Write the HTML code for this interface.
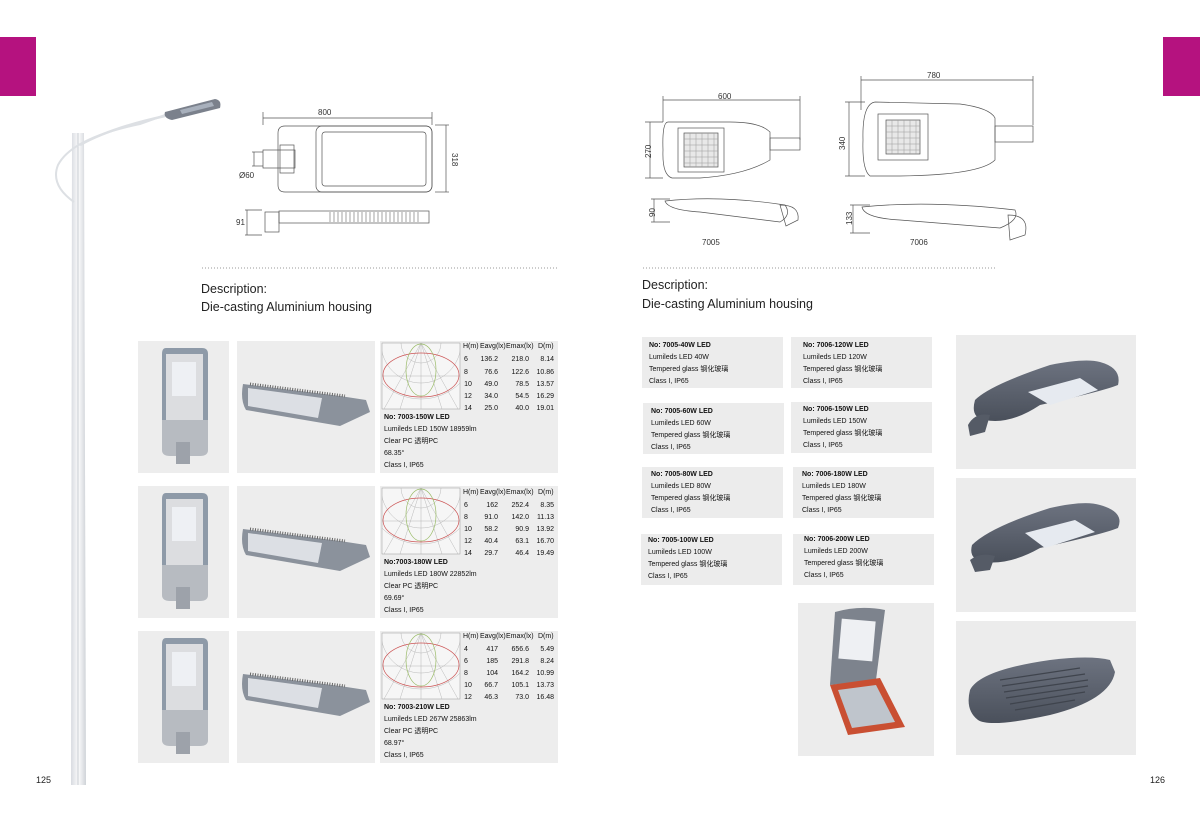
<!DOCTYPE html>
<html><head><meta charset="utf-8"><style>
html,body{margin:0;padding:0;background:#fff;}
body{width:1200px;height:819px;position:relative;overflow:hidden;font-family:"Liberation Sans","Noto Sans CJK SC",sans-serif;}
svg{position:absolute;left:0;top:0;}
</style></head><body>
<svg width="1200" height="819" viewBox="0 0 1200 819" font-family="Liberation Sans, Noto Sans CJK SC, sans-serif">
<defs>
<linearGradient id="pole" x1="0" x2="1"><stop offset="0" stop-color="#d8dbe0"/><stop offset=".5" stop-color="#fbfbfc"/><stop offset="1" stop-color="#cfd3d8"/></linearGradient>
<linearGradient id="dk" x1="0" y1="0" x2="0" y2="1"><stop offset="0" stop-color="#6d7380"/><stop offset="1" stop-color="#4a505b"/></linearGradient>
<clipPath id="polar"><rect x="382" y="343" width="78" height="66"/></clipPath>
</defs>
<rect x="0" y="37" width="36" height="59" fill="#b5127f"/>
<rect x="1163" y="37" width="37" height="59" fill="#b5127f"/>
<path d="M72 133 L84 133 L86 785 L71 785 Z" fill="url(#pole)"/>
<line x1="78" y1="133" x2="78" y2="785" stroke="#c8ccd2" stroke-width="1"/>
<path d="M80 145 Q110 128 165 116" stroke="#dde0e4" stroke-width="2.5" fill="none"/>
<path d="M74 202 Q50 185 58 165 Q72 138 140 124 L168 114" stroke="#dde0e4" stroke-width="2" fill="none"/>
<path d="M165 112 L215 99 Q222 100 220 108 L172 120 Q163 118 165 112Z" fill="#7b818c"/>
<path d="M180 110 L212 102 L214 106 L182 114Z" fill="#a8b0bc"/>
<text x="36" y="783" font-size="9" fill="#222">125</text>
<text x="1150" y="783" font-size="9" fill="#222">126</text>

<g stroke="#555" fill="none" stroke-width="0.7">
<line x1="263" y1="112" x2="263" y2="125"/><line x1="432" y1="112" x2="432" y2="125"/>
<line x1="263" y1="118" x2="432" y2="118"/>
<line x1="435" y1="125" x2="449" y2="125"/><line x1="435" y1="192" x2="449" y2="192"/><line x1="446" y1="125" x2="446" y2="192"/>
<path d="M285 126 L425 126 Q432 126 432 133 L432 185 Q432 192 425 192 L285 192 Q278 192 278 185 L278 133 Q278 126 285 126Z"/>
<rect x="316" y="126" width="116" height="66" rx="6"/>
<rect x="322" y="132" width="104" height="54" rx="3"/>
<rect x="263" y="150" width="32" height="18"/><rect x="280" y="145" width="14" height="28"/>
<line x1="252" y1="152" x2="263" y2="152"/><line x1="252" y1="166" x2="263" y2="166"/><line x1="254" y1="152" x2="254" y2="166"/>
<rect x="279" y="211" width="150" height="12"/>
<rect x="265" y="212" width="14" height="20"/>
<line x1="247" y1="210" x2="247" y2="235"/><line x1="245" y1="210" x2="262" y2="210"/><line x1="245" y1="235" x2="262" y2="235"/>
</g>
<g stroke="#666" stroke-width="0.6">
<path d="M330 212 V222 M334 212 V222 M338 212 V222 M342 212 V222 M346 212 V222 M350 212 V222 M354 212 V222 M358 212 V222 M362 212 V222 M366 212 V222 M370 212 V222 M374 212 V222 M378 212 V222 M382 212 V222 M386 212 V222 M390 212 V222 M394 212 V222 M398 212 V222 M402 212 V222 M406 212 V222 M410 212 V222 M414 212 V222 M418 212 V222"/>
</g>
<text x="318" y="115" font-size="8" fill="#333">800</text>
<text x="452" y="153" font-size="8" fill="#333" transform="rotate(90 452 153)">318</text>
<text x="239" y="178" font-size="8" fill="#333">Ø60</text>
<text x="236" y="225" font-size="8" fill="#333">91</text>

<g stroke="#555" fill="none" stroke-width="0.7">
<line x1="663" y1="100" x2="800" y2="100"/><line x1="663" y1="96" x2="663" y2="122"/><line x1="800" y1="96" x2="800" y2="140"/>
<line x1="645" y1="122" x2="663" y2="122"/><line x1="645" y1="178" x2="663" y2="178"/><line x1="650" y1="122" x2="650" y2="178"/>
<path d="M668 122 L730 122 Q760 122 770 132 L770 160 Q745 175 700 178 L672 178 Q662 175 663 150 Q662 122 668 122Z"/>
<rect x="678" y="128" width="46" height="44"/><rect x="684" y="133" width="34" height="34" fill="#e8e8e8"/>
<rect x="770" y="138" width="30" height="12"/>
<path d="M665 201 Q720 195 785 205 Q792 215 780 222 L700 212 Q668 210 665 201Z"/>
<path d="M780 205 Q800 205 798 220 L786 226 Z"/>
<line x1="651" y1="199" x2="670" y2="199"/><line x1="651" y1="222" x2="670" y2="222"/><line x1="654" y1="199" x2="654" y2="222"/>
<line x1="861" y1="80" x2="1033" y2="80"/><line x1="861" y1="76" x2="861" y2="110"/><line x1="1033" y1="76" x2="1033" y2="125"/>
<line x1="845" y1="102" x2="865" y2="102"/><line x1="845" y1="176" x2="865" y2="176"/><line x1="849" y1="102" x2="849" y2="176"/>
<path d="M875 102 L960 104 Q990 108 995 118 L995 160 Q980 175 900 176 L870 176 Q862 170 863 140 Q862 104 875 102Z"/>
<rect x="878" y="114" width="50" height="46"/><rect x="886" y="120" width="34" height="34" fill="#e8e8e8"/>
<rect x="995" y="126" width="38" height="16"/>
<path d="M862 207 Q930 200 1015 210 Q1020 220 1000 228 L900 220 Q864 218 862 207Z"/>
<path d="M1008 215 Q1030 215 1025 235 L1010 240 Z"/>
<line x1="850" y1="205" x2="870" y2="205"/><line x1="850" y1="233" x2="870" y2="233"/><line x1="853" y1="205" x2="853" y2="233"/>
</g>
<g stroke="#999" stroke-width="0.5">
<path d="M690 133 V167 M696 133 V167 M702 133 V167 M708 133 V167 M714 133 V167 M684 139 H718 M684 145 H718 M684 151 H718 M684 157 H718 M684 163 H718"/>
<path d="M892 120 V154 M898 120 V154 M904 120 V154 M910 120 V154 M916 120 V154 M886 126 H920 M886 132 H920 M886 138 H920 M886 144 H920 M886 150 H920"/>
</g>
<text x="718" y="99" font-size="8" fill="#333">600</text>
<text x="927" y="78" font-size="8" fill="#333">780</text>
<text x="651" y="158" font-size="8" fill="#333" transform="rotate(-90 651 158)">270</text>
<text x="845" y="150" font-size="8" fill="#333" transform="rotate(-90 845 150)">340</text>
<text x="655" y="217" font-size="8" fill="#333" transform="rotate(-90 655 217)">90</text>
<text x="852" y="225" font-size="8" fill="#333" transform="rotate(-90 852 225)">133</text>
<text x="702" y="245" font-size="8" fill="#333">7005</text>
<text x="910" y="245" font-size="8" fill="#333">7006</text>

<line x1="202" y1="268" x2="558" y2="268" stroke="#777" stroke-width="0.8" stroke-dasharray="1,2"/>
<line x1="643" y1="268" x2="997" y2="268" stroke="#777" stroke-width="0.8" stroke-dasharray="1,2"/>
<text x="201" y="293" font-size="12.5" fill="#222">Description:</text>
<text x="201" y="311" font-size="12.5" fill="#222">Die-casting Aluminium housing</text>
<text x="642" y="289" font-size="12.5" fill="#222">Description:</text>
<text x="642" y="308" font-size="12.5" fill="#222">Die-casting Aluminium housing</text>

<g id="row1">
<rect x="138" y="341" width="91" height="132" fill="#ededed"/>
<rect x="237" y="341" width="138" height="132" fill="#ededed"/>
<rect x="380" y="341" width="178" height="132" fill="#ededed"/>
<path d="M166 348 L202 348 Q208 348 208 354 L208 436 L162 436 L162 354 Q162 348 166 348Z" fill="#8e9aa8"/>
<rect x="166" y="354" width="37" height="70" fill="#dcdde0"/>
<rect x="172" y="362" width="24" height="34" fill="#eef0f4"/>
<path d="M162 420 L208 420 L208 450 Q208 456 200 456 L170 456 Q162 456 162 450Z" fill="#b7bbc1"/>
<rect x="176" y="442" width="14" height="22" fill="#9da2aa"/>
<path d="M243 384 L340 396 L366 400 L370 412 L340 426 L246 410 Q240 400 243 384Z" fill="#8b929c"/>
<path d="M248 388 L322 398 L318 418 L248 406Z" fill="#dcdfe4"/>
<path d="M250 384 L345 396" stroke="#666" stroke-width="3" stroke-dasharray="1,1.5"/>
<rect x="382" y="343" width="78" height="66" fill="#f6f6f6" stroke="#999" stroke-width="0.5"/>
<g clip-path="url(#polar)">
<g stroke="#aaa" stroke-width="0.4" fill="none"><path d="M421 343 V409 M382 376 H460 M421 343 L384 409 M421 343 L458 409 M421 343 L400 409 M421 343 L442 409"/><circle cx="421" cy="343" r="20"/><circle cx="421" cy="343" r="40"/><circle cx="421" cy="343" r="56"/></g>
<ellipse cx="421" cy="375" rx="38" ry="22" fill="none" stroke="#c55" stroke-width="0.7"/>
<ellipse cx="421" cy="370" rx="15" ry="26" fill="none" stroke="#9b6" stroke-width="0.7"/>
</g>
</g>
<use href="#row1" y="145"/>
<use href="#row1" y="290"/>

<g font-size="7" fill="#111">
<text x="463" y="348">H(m)</text><text x="480" y="348">Eavg(lx)</text><text x="506" y="348">Emax(lx)</text><text x="538" y="348">D(m)</text>
<g text-anchor="middle"><text x="466" y="361">6</text><text x="466" y="374">8</text><text x="468" y="386">10</text><text x="468" y="398">12</text><text x="468" y="410">14</text></g>
<g text-anchor="end"><text x="498" y="361">136.2</text><text x="498" y="374">76.6</text><text x="498" y="386">49.0</text><text x="498" y="398">34.0</text><text x="498" y="410">25.0</text>
<text x="529" y="361">218.0</text><text x="529" y="374">122.6</text><text x="529" y="386">78.5</text><text x="529" y="398">54.5</text><text x="529" y="410">40.0</text>
<text x="554" y="361">8.14</text><text x="554" y="374">10.86</text><text x="554" y="386">13.57</text><text x="554" y="398">16.29</text><text x="554" y="410">19.01</text></g>
<text x="384" y="419" font-weight="bold">No: 7003-150W LED</text>
<text x="384" y="431">Lumileds LED 150W 18959lm</text>
<text x="384" y="443">Clear PC 透明PC</text>
<text x="384" y="455">68.35°</text>
<text x="384" y="467">Class I, IP65</text>

<text x="463" y="494">H(m)</text><text x="480" y="494">Eavg(lx)</text><text x="506" y="494">Emax(lx)</text><text x="538" y="494">D(m)</text>
<g text-anchor="middle"><text x="466" y="507">6</text><text x="466" y="519">8</text><text x="468" y="531">10</text><text x="468" y="543">12</text><text x="468" y="555">14</text></g>
<g text-anchor="end"><text x="498" y="507">162</text><text x="498" y="519">91.0</text><text x="498" y="531">58.2</text><text x="498" y="543">40.4</text><text x="498" y="555">29.7</text>
<text x="529" y="507">252.4</text><text x="529" y="519">142.0</text><text x="529" y="531">90.9</text><text x="529" y="543">63.1</text><text x="529" y="555">46.4</text>
<text x="554" y="507">8.35</text><text x="554" y="519">11.13</text><text x="554" y="531">13.92</text><text x="554" y="543">16.70</text><text x="554" y="555">19.49</text></g>
<text x="384" y="564" font-weight="bold">No:7003-180W LED</text>
<text x="384" y="576">Lumileds LED 180W 22852lm</text>
<text x="384" y="588">Clear PC 透明PC</text>
<text x="384" y="600">69.69°</text>
<text x="384" y="612">Class I, IP65</text>

<text x="463" y="638">H(m)</text><text x="480" y="638">Eavg(lx)</text><text x="506" y="638">Emax(lx)</text><text x="538" y="638">D(m)</text>
<g text-anchor="middle"><text x="466" y="651">4</text><text x="466" y="663">6</text><text x="466" y="675">8</text><text x="468" y="687">10</text><text x="468" y="699">12</text></g>
<g text-anchor="end"><text x="498" y="651">417</text><text x="498" y="663">185</text><text x="498" y="675">104</text><text x="498" y="687">66.7</text><text x="498" y="699">46.3</text>
<text x="529" y="651">656.6</text><text x="529" y="663">291.8</text><text x="529" y="675">164.2</text><text x="529" y="687">105.1</text><text x="529" y="699">73.0</text>
<text x="554" y="651">5.49</text><text x="554" y="663">8.24</text><text x="554" y="675">10.99</text><text x="554" y="687">13.73</text><text x="554" y="699">16.48</text></g>
<text x="384" y="709" font-weight="bold">No: 7003-210W LED</text>
<text x="384" y="721">Lumileds LED 267W 25863lm</text>
<text x="384" y="733">Clear PC 透明PC</text>
<text x="384" y="745">68.97°</text>
<text x="384" y="757">Class I, IP65</text>
</g>

<g fill="#ececec">
<rect x="642" y="337" width="141" height="51"/><rect x="791" y="337" width="141" height="51"/>
<rect x="643" y="403" width="141" height="51"/><rect x="791" y="402" width="141" height="51"/>
<rect x="642" y="467" width="141" height="51"/><rect x="793" y="467" width="141" height="51"/>
<rect x="641" y="534" width="141" height="51"/><rect x="793" y="534" width="141" height="51"/>
</g>
<g font-size="7" fill="#111">
<g transform="translate(649,347)"><text font-weight="bold">No: 7005-40W LED</text><text y="12">Lumileds LED 40W</text><text y="24">Tempered glass 钢化玻璃</text><text y="36">Class I, IP65</text></g>
<g transform="translate(803,347)"><text font-weight="bold">No: 7006-120W LED</text><text y="12">Lumileds LED 120W</text><text y="24">Tempered glass 钢化玻璃</text><text y="36">Class I, IP65</text></g>
<g transform="translate(651,413)"><text font-weight="bold">No: 7005-60W LED</text><text y="12">Lumileds LED 60W</text><text y="24">Tempered glass 钢化玻璃</text><text y="36">Class I, IP65</text></g>
<g transform="translate(803,411)"><text font-weight="bold">No: 7006-150W LED</text><text y="12">Lumileds LED 150W</text><text y="24">Tempered glass 钢化玻璃</text><text y="36">Class I, IP65</text></g>
<g transform="translate(651,476)"><text font-weight="bold">No: 7005-80W LED</text><text y="12">Lumileds LED 80W</text><text y="24">Tempered glass 钢化玻璃</text><text y="36">Class I, IP65</text></g>
<g transform="translate(802,476)"><text font-weight="bold">No: 7006-180W LED</text><text y="12">Lumileds LED 180W</text><text y="24">Tempered glass 钢化玻璃</text><text y="36">Class I, IP65</text></g>
<g transform="translate(648,542)"><text font-weight="bold">No: 7005-100W LED</text><text y="12">Lumileds LED 100W</text><text y="24">Tempered glass 钢化玻璃</text><text y="36">Class I, IP65</text></g>
<g transform="translate(804,541)"><text font-weight="bold">No: 7006-200W LED</text><text y="12">Lumileds LED 200W</text><text y="24">Tempered glass 钢化玻璃</text><text y="36">Class I, IP65</text></g>
</g>

<rect x="956" y="335" width="180" height="134" fill="#ececec"/>
<rect x="956" y="478" width="180" height="134" fill="#ececec"/>
<rect x="956" y="621" width="180" height="134" fill="#ececec"/>
<rect x="798" y="603" width="136" height="153" fill="#ececec"/>
<path d="M975 400 Q990 385 1050 365 Q1085 358 1100 362 Q1122 368 1118 385 Q1100 392 1040 405 Q1010 425 985 420 Q970 418 975 400Z" fill="url(#dk)"/>
<path d="M1028 392 L1080 378 L1098 390 L1050 405Z" fill="#e6eaf0"/>
<path d="M968 425 Q975 412 990 415 L985 432 L970 436Z" fill="#555b66"/>
<path d="M972 545 Q990 527 1050 508 Q1085 500 1100 505 Q1125 512 1118 528 Q1100 535 1040 548 Q1010 565 985 562 Q968 560 972 545Z" fill="url(#dk)"/>
<path d="M1025 533 L1075 520 L1095 532 L1045 548Z" fill="#e6eaf0"/>
<path d="M970 560 Q980 552 995 556 L990 570 L975 572Z" fill="#555b66"/>
<path d="M970 690 Q980 670 1050 660 Q1090 655 1110 660 L1115 672 Q1110 700 1050 715 Q990 728 978 720 Q965 710 970 690Z" fill="url(#dk)"/>
<g stroke="#3f444d" stroke-width="1.2"><path d="M1000 680 L1080 668 M1002 686 L1085 674 M1004 692 L1088 680 M1006 698 L1088 686 M1010 704 L1085 692 M1015 710 L1075 700"/></g>
<path d="M835 612 Q860 605 885 610 L876 680 L830 685 Z" fill="#7d838d"/>
<rect x="840" y="620" width="34" height="40" fill="#eef0f3" transform="rotate(5 857 640)"/>
<path d="M830 685 L880 678 L905 727 L848 735 Z" fill="#c94f32"/>
<path d="M838 690 L876 685 L895 722 L852 728 Z" fill="#bfc5cc"/>
</svg>
</body></html>
